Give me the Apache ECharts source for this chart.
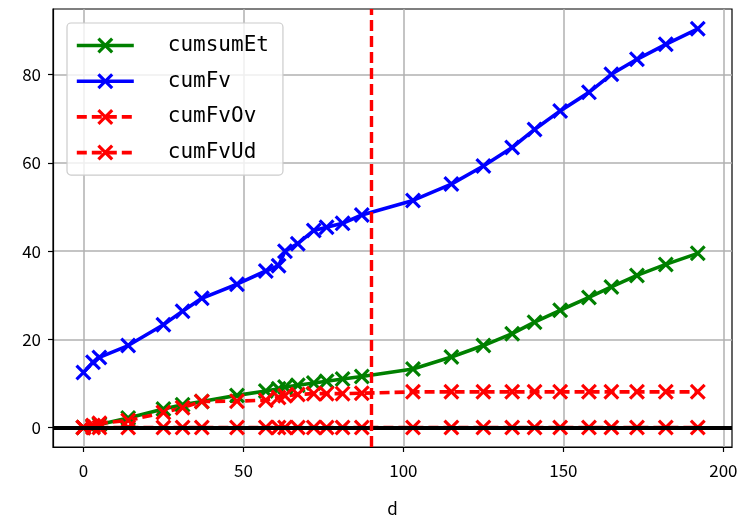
<!DOCTYPE html>
<html>
<head>
<meta charset="utf-8">
<script src="https://cdn.jsdelivr.net/npm/echarts@6/dist/echarts.min.js"></script>
<style>
  html, body { margin: 0; padding: 0; background: #fff; }
  #main { width: 740px; height: 517px; }
</style>
</head>
<body>
<div id="main"></div>
<script>
// data
var d = [0, 3, 5, 14, 25, 31, 37, 48, 57, 61, 63, 67, 72, 76, 81, 87, 103, 115, 125, 134, 141, 149, 158, 165, 173, 182, 192];
var cumsumEt = [0, 0.3, 0.7, 2.2, 4.2, 5.2, 5.9, 7.3, 8.3, 8.8, 9.2, 9.6, 10.1, 10.5, 11.0, 11.6,
                13.3, 16.0, 18.6, 21.3, 23.9, 26.6, 29.5, 31.9, 34.5, 37.0, 39.5];
var cumFv = [12.5, 14.8, 15.9, 18.6, 23.3, 26.4, 29.3, 32.5, 35.5, 36.7, 40.0, 41.7, 44.7, 45.4, 46.3, 48.2,
             51.5, 55.2, 59.3, 63.5, 67.6, 71.8, 76.0, 80.1, 83.5, 86.9, 90.4];
var cumFvOv = [0, 0.5, 1.0, 1.6, 3.4, 4.5, 5.9, 6.0, 6.2, 6.8, 7.2, 7.5, 7.7, 7.7, 7.7, 7.8,
               8.1, 8.1, 8.1, 8.1, 8.1, 8.1, 8.1, 8.1, 8.1, 8.1, 8.1];
var cumFvUd = [0, 0, 0, 0, 0, 0, 0, 0, 0, 0, 0, 0, 0, 0, 0, 0, 0, 0, 0, 0, 0, 0, 0, 0, 0, 0, 0];
var xTicks = [0, 50, 100, 150, 200];
var yTicks = [0, 20, 40, 60, 80];
var cutDay = 90;

// "x" marker, two crossed bars
var xMark = 'path://M0,1.4 L1.4,0 L10,8.6 L8.6,10 Z M8.6,0 L10,1.4 L1.4,10 L0,8.6 Z';
var tickFont = 'Noto Sans CJK JP';

function pairs(ys) {
    return d.map(function (x, i) { return [x, ys[i]]; });
}

function lineSeries(name, ys, color, dashed) {
    return {
        name: name,
        type: 'line',
        data: pairs(ys),
        symbol: xMark,
        symbolSize: 16,
        showAllSymbol: true,
        itemStyle: { color: color },
        lineStyle: { color: color, width: 3.6, type: dashed ? [10, 5] : 'solid' }
    };
}

var myChart = echarts.init(document.getElementById('main'));

var series = [
    lineSeries('cumsumEt', cumsumEt, '#008000', false),
    lineSeries('cumFv', cumFv, '#0000ff', false),
    lineSeries('cumFvOv', cumFvOv, '#ff0000', true),
    lineSeries('cumFvUd', cumFvUd, '#ff0000', true)
];
// zero line and the cut-off day
series.push({
    type: 'line',
    data: [],
    z: 10,
    markLine: {
        silent: true,
        symbol: 'none',
        label: { show: false },
        animation: false,
        data: [
            { yAxis: 0, lineStyle: { color: '#000', width: 4, type: 'solid' } },
            { xAxis: cutDay, lineStyle: { color: '#ff0000', width: 3.4, type: [11, 5] } }
        ]
    }
});

option = {
    animation: false,
    grid: {
        left: 53,
        right: 8,
        top: 9,
        bottom: 70,
        containLabel: false,
        outerBoundsMode: 'none',
        show: true,
        borderColor: '#000',
        borderWidth: 1.2,
        backgroundColor: 'transparent'
    },
    legend: {
        left: 67,
        top: 23,
        orient: 'vertical',
        itemWidth: 57,
        itemHeight: 20,
        itemGap: 14.7,
        padding: [12, 14, 12, 8],
        backgroundColor: 'rgba(255,255,255,0.8)',
        borderColor: '#cccccc',
        borderWidth: 1.2,
        borderRadius: 4,
        lineStyle: { width: 3.6 },
        textStyle: {
            fontFamily: 'DejaVu Sans Mono',
            fontSize: 21,
            color: '#000',
            padding: [0, 0, 0, 29]
        },
        data: ['cumsumEt', 'cumFv', 'cumFvOv', 'cumFvUd']
    },
    xAxis: {
        type: 'value',
        min: -9.5,
        max: 202.7,
        name: 'd',
        nameLocation: 'middle',
        nameGap: 53,
        nameTextStyle: { fontFamily: tickFont, fontSize: 17, color: '#000' },
        axisLine: { onZero: false, lineStyle: { color: '#000', width: 1.2 } },
        axisTick: { show: true, length: 5, customValues: xTicks, lineStyle: { color: '#000', width: 1.2 } },
        axisLabel: { customValues: xTicks, margin: 15, fontFamily: tickFont, fontSize: 17, color: '#000' },
        splitLine: { show: true, lineStyle: { color: '#b0b0b0', width: 1.5 } }
    },
    yAxis: {
        type: 'value',
        min: -4.4,
        max: 94.9,
        axisLine: { show: true, onZero: false, lineStyle: { color: '#000', width: 1.2 } },
        axisTick: { show: true, length: 5, customValues: yTicks, lineStyle: { color: '#000', width: 1.2 } },
        axisLabel: { customValues: yTicks, margin: 12, fontFamily: tickFont, fontSize: 17, color: '#000' },
        splitLine: { show: true, lineStyle: { color: '#b0b0b0', width: 1.5 } }
    },
    series: series
};

myChart.setOption(option);
</script>
</body>
</html>
